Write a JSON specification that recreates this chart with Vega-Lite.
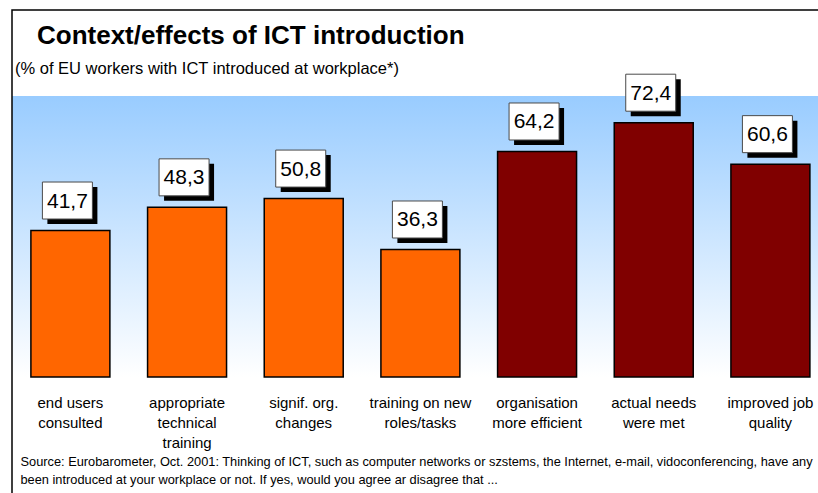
{
  "$schema": "https://vega.github.io/schema/vega-lite/v6.json",
  "width": 806,
  "height": 281,
  "autosize": {"type": "none"},
  "padding": {"left": 12, "top": 96, "right": 0, "bottom": 116},
  "background": "white",
  "config": {
    "font": "Liberation Sans",
    "view": {"stroke": null},
    "locale": {"number": {"decimal": ",", "thousands": ".", "grouping": [3], "currency": ["", " €"]}}
  },
  "title": {
    "text": "Context/effects of ICT introduction",
    "anchor": "start",
    "frame": "group",
    "dx": 25,
    "font": "Liberation Sans",
    "fontSize": 26,
    "fontWeight": "bold",
    "color": "black",
    "baseline": "alphabetic",
    "offset": -61
  },
  "datasets": {
    "bars": [
      {"category": "end users\nconsulted", "value": 41.7, "group": "context"},
      {"category": "appropriate\ntechnical\ntraining", "value": 48.3, "group": "context"},
      {"category": "signif. org.\nchanges", "value": 50.8, "group": "context"},
      {"category": "training on new\nroles/tasks", "value": 36.3, "group": "context"},
      {"category": "organisation\nmore efficient", "value": 64.2, "group": "effect"},
      {"category": "actual needs\nwere met", "value": 72.4, "group": "effect"},
      {"category": "improved job\nquality", "value": 60.6, "group": "effect"}
    ]
  },
  "resolve": {"scale": {"x": "independent"}, "axis": {"x": "independent"}},
  "layer": [
    {
      "data": {"values": [{"subtitle": "(% of EU workers with ICT introduced at workplace*)"}]},
      "encoding": {
        "x": {"datum": 0, "type": "quantitative", "scale": {"domain": [0, 1], "nice": false}, "axis": null}
      },
      "layer": [
        {
          "mark": {
            "type": "rect",
            "color": {
              "gradient": "linear",
              "x1": 0, "y1": 0, "x2": 0, "y2": 1,
              "stops": [
                {"offset": 0, "color": "#99CCFF"},
                {"offset": 1, "color": "#FFFFFF"}
              ]
            }
          },
          "encoding": {
            "x2": {"datum": 1},
            "y": {"datum": 80, "type": "quantitative", "scale": {"domain": [0, 80], "nice": false}, "axis": null},
            "y2": {"datum": 0}
          }
        },
        {
          "mark": {"type": "rect", "fill": "transparent", "stroke": "black", "strokeWidth": 1.5},
          "encoding": {
            "x2": {"datum": 1.2},
            "y": {"datum": 104.48, "type": "quantitative", "scale": {"domain": [0, 80], "nice": false}, "axis": null},
            "y2": {"datum": -50}
          }
        },
        {
          "mark": {
            "type": "text",
            "align": "left",
            "baseline": "alphabetic",
            "fontSize": 16.5,
            "color": "black",
            "dx": 3
          },
          "encoding": {
            "y": {"datum": 86.26, "type": "quantitative", "scale": {"domain": [0, 80], "nice": false}, "axis": null},
            "text": {"field": "subtitle", "type": "nominal"}
          }
        }
      ]
    },
    {
      "data": {"name": "bars"},
      "encoding": {
        "x": {
          "field": "category",
          "type": "nominal",
          "sort": null,
          "scale": {"paddingInner": 0.323, "paddingOuter": 0.1157, "align": 0.7},
          "axis": {
            "labelExpr": "split(datum.label, '\\n')",
            "labelAngle": 0,
            "labelFontSize": 15,
            "labelLineHeight": 20,
            "labelColor": "black",
            "labelPadding": 18,
            "labelBaseline": "top",
            "labelOverlap": false,
            "labelLimit": 0,
            "domain": false,
            "ticks": false,
            "grid": false,
            "title": [
              "Source: Eurobarometer,  Oct. 2001: Thinking of ICT, such as computer networks or szstems, the Internet, e-mail, vidoconferencing, have any",
              "been introduced at your workplace or not. If yes, would you agree ar disagree that ..."
            ],
            "titleFontSize": 12.8,
            "titleFontWeight": "normal",
            "titleColor": "black",
            "titleAnchor": "start",
            "titleAlign": "left",
            "titleBaseline": "alphabetic",
            "titleLineHeight": 18,
            "titleX": 8,
            "titleY": 88
          }
        },
        "y": {"field": "value", "type": "quantitative", "scale": {"domain": [0, 80], "nice": false}, "axis": null}
      },
      "layer": [
        {
          "mark": {"type": "bar", "stroke": "black", "strokeWidth": 1.5},
          "encoding": {
            "color": {
              "field": "group",
              "type": "nominal",
              "scale": {"domain": ["context", "effect"], "range": ["#FF6600", "#800000"]},
              "legend": null
            }
          }
        },
        {
          "mark": {
            "type": "point",
            "shape": "M-1,-0.74H1V0.74H-1Z",
            "size": 2500,
            "filled": true,
            "opacity": 1,
            "color": "black",
            "strokeWidth": 0,
            "xOffset": 2,
            "yOffset": -25
          }
        },
        {
          "mark": {
            "type": "point",
            "shape": "M-1,-0.74H1V0.74H-1Z",
            "size": 2500,
            "filled": true,
            "opacity": 1,
            "fill": "white",
            "stroke": "#4a4a4a",
            "strokeWidth": 1,
            "xOffset": -3,
            "yOffset": -30
          }
        },
        {
          "mark": {
            "type": "text",
            "fontSize": 21,
            "color": "black",
            "align": "center",
            "baseline": "middle",
            "xOffset": -3,
            "yOffset": -29
          },
          "encoding": {
            "text": {"field": "value", "type": "quantitative", "format": ".1f"}
          }
        }
      ]
    }
  ]
}
